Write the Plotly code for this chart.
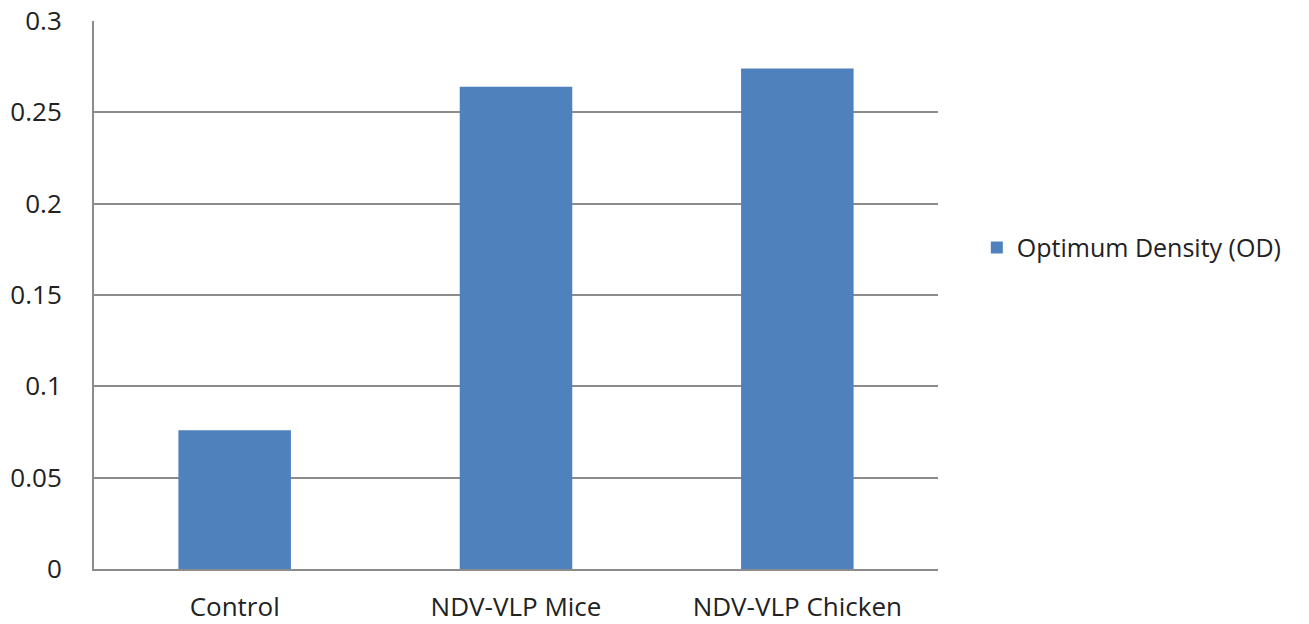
import plotly.graph_objects as go

categories = ["Control", "NDV-VLP Mice", "NDV-VLP Chicken"]
od_values = [0.076, 0.264, 0.274]
series_name = "Optimum Density (OD)"
y_ticks = [0, 0.05, 0.1, 0.15, 0.2, 0.25, 0.3]
y_tick_labels = ["0", "0.05", "0.1", "0.15", "0.2", "0.25", "0.3"]

font_family = "Open Sans, Liberation Sans, sans-serif"
grid_color = "#8c8c8c"
text_size = 26

fig = go.Figure()
fig.add_trace(go.Bar(
    x=categories,
    y=od_values,
    name=series_name,
    marker=dict(color="#4F81BD", line=dict(width=0)),
    width=0.4,
    showlegend=True,
))

fig.update_layout(
    width=1309,
    height=624,
    margin=dict(l=94, r=371, t=21, b=55, autoexpand=False),
    paper_bgcolor="white",
    plot_bgcolor="white",
    font=dict(family=font_family, size=text_size, color="#222222"),
    showlegend=True,
    legend=dict(
        x=1.046, y=0.586, xanchor="left", yanchor="middle",
        font=dict(size=text_size - 1, color="#222222"),
        itemsizing="constant",
        bgcolor="rgba(0,0,0,0)",
    ),
    xaxis=dict(
        showline=True, linecolor=grid_color, linewidth=2,
        showgrid=False, ticks="", ticklabelstandoff=14,
        tickfont=dict(size=text_size), automargin=False,
    ),
    yaxis=dict(
        range=[0, 0.3],
        tickvals=y_ticks, ticktext=y_tick_labels,
        showline=True, linecolor=grid_color, linewidth=2,
        showgrid=True, gridcolor=grid_color, gridwidth=1.5,
        zeroline=False, ticks="", ticklabelstandoff=25,
        tickfont=dict(size=text_size), automargin=False,
    ),
)

fig.write_html("out.html")
